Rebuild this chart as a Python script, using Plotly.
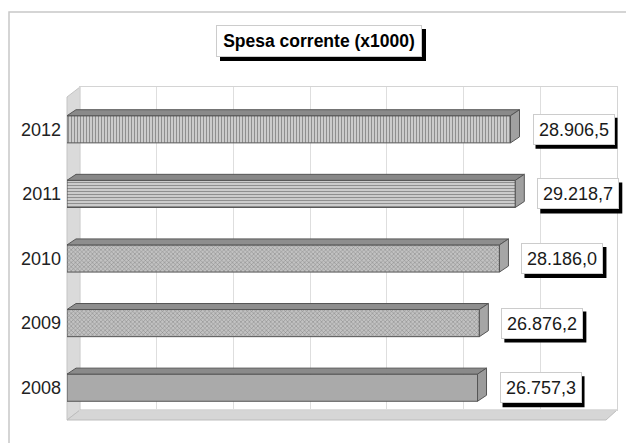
import plotly.graph_objects as go

# ---- data ----
years = ["2008", "2009", "2010", "2011", "2012"]
values = [26757.3, 26876.2, 28186.0, 29218.7, 28906.5]
title_text = "Spesa corrente (x1000)"
x_max = 35000
x_step = 5000

# ---- styling ----
W, H = 626, 443
ML, MR, MT, MB = 67, 0, 87, 23
PW, PH = W - ML - MR, H - MT - MB          # paper area in px
BACK_RIGHT = 617                           # px of back wall right edge
DEPTH_X, DEPTH_Y = 13, 10                  # wall depth in px
FRONT_W = BACK_RIGHT - ML - DEPTH_X        # px covered by 0..x_max on the front plane
FRONT_H = PH - DEPTH_Y

def px_x(p):  # pixel x -> paper
    return (p - ML) / PW

def px_y(p):  # pixel y -> paper
    return (H - MB - p) / PH

bar_width = 0.42
face_colors = ["#aaaaaa", "#c2c2c2", "#c2c2c2", "#cccccc", "#cccccc"]
pat_shapes = ["", "x", "x", "-", "|"]
pat_fg = ["#9a9a9a", "#8c8c8c", "#8c8c8c", "#707070", "#707070"]
top_colors = ["#8a8a8a", "#8e8e8e", "#8e8e8e", "#888888", "#8a8a8a"]
end_colors = ["#9c9c9c", "#a6a6a6", "#a6a6a6", "#a0a0a0", "#a0a0a0"]

def it_fmt(v):
    s = f"{v:,.1f}"
    return s.replace(",", "X").replace(".", ",").replace("X", ".")

idx = list(range(len(years)))

fig = go.Figure()

# invisible trace for the back-wall subplot
fig.add_trace(go.Scatter(x=[0], y=[0], xaxis="x", yaxis="y", mode="markers",
                         marker=dict(opacity=0), hoverinfo="skip", showlegend=False))

fig.add_trace(go.Bar(
    x=values, y=idx, orientation="h", width=bar_width,
    xaxis="x2", yaxis="y2",
    marker=dict(color=face_colors,
                line=dict(color="#555555", width=1),
                pattern=dict(shape=pat_shapes, fgcolor=pat_fg, size=3, solidity=0.3,
                             fillmode="overlay")),
    showlegend=False, hoverinfo="skip",
))

# depth of bars in data units
px_per_unit = FRONT_W / x_max
ddx = 9 / px_per_unit
ddy = 6 / (FRONT_H / len(years))
front_range_max = PW / px_per_unit        # front subplot spans full paper width

LBL_W, LBL_H, LBL_SHIFT = 82, 31, 22

shapes = []
for i, v in zip(idx, values):
    yt = i + bar_width / 2
    yb = i - bar_width / 2
    shapes.append(dict(type="path", xref="x2", yref="y2", layer="above",
                       path=f"M 0,{yt} L {v},{yt} L {v+ddx},{yt+ddy} L {ddx},{yt+ddy} Z",
                       fillcolor=top_colors[i], line=dict(color="#555555", width=1)))
    shapes.append(dict(type="path", xref="x2", yref="y2", layer="above",
                       path=f"M {v},{yb} L {v},{yt} L {v+ddx},{yt+ddy} L {v+ddx},{yb+ddy} Z",
                       fillcolor=end_colors[i], line=dict(color="#555555", width=1)))
    # label shadow
    shapes.append(dict(type="rect", xref="x2", yref="y2", layer="above",
                       xsizemode="pixel", ysizemode="pixel", xanchor=v, yanchor=i,
                       x0=LBL_SHIFT + 3, x1=LBL_SHIFT + 3 + LBL_W,
                       y0=-LBL_H / 2 - 4, y1=LBL_H / 2 - 4,
                       fillcolor="#000000", line=dict(width=0)))

# left wall
shapes.append(dict(type="path", xref="paper", yref="paper", layer="below",
                   path=(f"M {px_x(67)},{px_y(97)} L {px_x(80)},{px_y(87)} "
                         f"L {px_x(80)},{px_y(410)} L {px_x(67)},{px_y(420)} Z"),
                   fillcolor="#dadada", line=dict(color="#c4c4c4", width=1)))
# floor
shapes.append(dict(type="path", xref="paper", yref="paper", layer="below",
                   path=(f"M {px_x(67)},{px_y(420)} L {px_x(80)},{px_y(410)} "
                         f"L {px_x(617)},{px_y(410)} L {px_x(606)},{px_y(420)} Z"),
                   fillcolor="#d6d6d6", line=dict(color="#bdbdbd", width=1)))
# outer frame
shapes.append(dict(type="rect", xref="paper", yref="paper", layer="below",
                   x0=px_x(9), x1=px_x(632), y0=px_y(448), y1=px_y(12),
                   line=dict(color="#c8c8c8", width=1.5), fillcolor="rgba(0,0,0,0)"))
# title shadow
shapes.append(dict(type="rect", xref="paper", yref="paper", layer="above",
                   x0=px_x(220), x1=px_x(426), y0=px_y(61), y1=px_y(29),
                   fillcolor="#000000", line=dict(width=0)))

annotations = []
tx, ty = px_x(319), px_y(41)
annotations.append(dict(xref="paper", yref="paper", x=tx, y=ty,
                        xanchor="center", yanchor="middle",
                        text=f"<b>{title_text}</b>", showarrow=False,
                        font=dict(family="Liberation Sans", size=17.5, color="#000000"),
                        bgcolor="#ffffff", width=200, height=26, borderpad=2,
                        bordercolor="#cccccc", borderwidth=1))
for i, v in zip(idx, values):
    annotations.append(dict(
        xref="x2", yref="y2", x=v, y=i, xanchor="left", yanchor="middle",
        xshift=LBL_SHIFT,
        text=it_fmt(v), showarrow=False,
        font=dict(family="Liberation Sans", size=18, color="#1a1a1a"),
        bgcolor="#ffffff", bordercolor="#cccccc", borderwidth=1,
        width=LBL_W - 6, height=LBL_H - 6, borderpad=2,
    ))

fig.update_layout(
    width=W, height=H,
    margin=dict(l=ML, r=MR, t=MT, b=MB),
    paper_bgcolor="#ffffff", plot_bgcolor="rgba(0,0,0,0)",
    shapes=shapes, annotations=annotations,
    showlegend=False,
    xaxis=dict(domain=[DEPTH_X / PW, px_x(BACK_RIGHT)], range=[0, x_max], dtick=x_step, tick0=0,
               showgrid=True, gridcolor="#dedede", gridwidth=1,
               showline=True, mirror=True, linecolor="#d4d4d4",
               showticklabels=False, ticks="", zeroline=False, anchor="y", fixedrange=True),
    yaxis=dict(domain=[DEPTH_Y / PH, 1], range=[0, 1], showgrid=False,
               showline=True, mirror=True, linecolor="#d4d4d4",
               showticklabels=False, ticks="", zeroline=False, anchor="x", fixedrange=True),
    xaxis2=dict(domain=[0, 1], range=[0, front_range_max], showgrid=False,
                showticklabels=False, ticks="", zeroline=False, showline=False,
                anchor="y2", fixedrange=True),
    yaxis2=dict(domain=[0, FRONT_H / PH], range=[-0.5, len(years) - 0.5],
                tickvals=idx, ticktext=years, showgrid=False, zeroline=False,
                showline=False, ticks="", ticklabelstandoff=5,
                tickfont=dict(family="Liberation Sans", size=18, color="#222222"),
                anchor="x2", fixedrange=True),
)

fig.write_html("out.html", config={"displayModeBar": False},
               post_script="document.body.style.margin='0';document.body.style.overflow='hidden';")
